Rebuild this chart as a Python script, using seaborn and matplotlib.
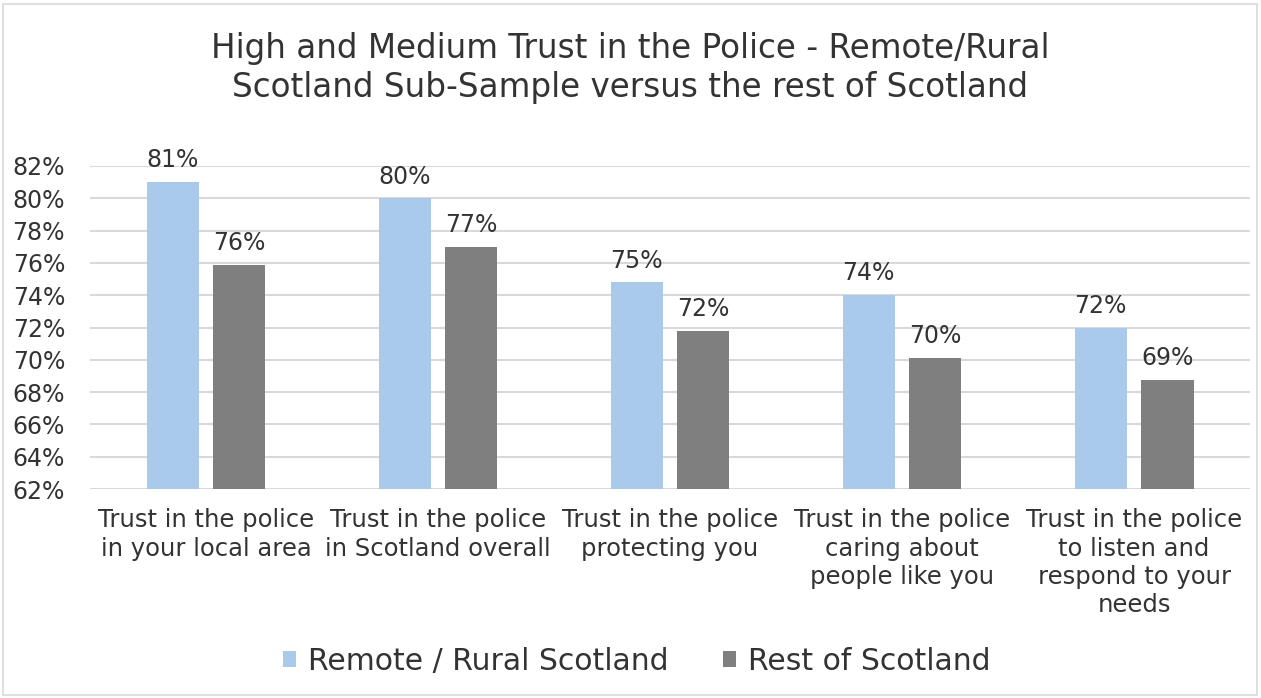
import matplotlib
matplotlib.use("Agg")
import matplotlib.pyplot as plt
import seaborn as sns
import pandas as pd
from matplotlib.patches import Rectangle

categories = [
    "Trust in the police\nin your local area",
    "Trust in the police\nin Scotland overall",
    "Trust in the police\nprotecting you",
    "Trust in the police\ncaring about\npeople like you",
    "Trust in the police\nto listen and\nrespond to your\nneeds",
]
series = ["Remote / Rural Scotland", "Rest of Scotland"]
remote_rural = [81.0, 80.0, 74.8, 74.0, 72.0]
rest_of_scotland = [75.9, 77.0, 71.8, 70.1, 68.75]
y_ticks = [62, 64, 66, 68, 70, 72, 74, 76, 78, 80, 82]
colors = ["#A9CAEB", "#7F7F7F"]
text_color = "#333333"

df = pd.DataFrame({
    "category": categories * 2,
    "series": [series[0]] * len(categories) + [series[1]] * len(categories),
    "value": remote_rural + rest_of_scotland,
})

sns.set_theme(style="white")
plt.rcParams["font.family"] = ["DejaVu Sans"]

fig = plt.figure(figsize=(12.61, 6.98), dpi=100)
ax = fig.add_axes([0.0714, 0.2994, 0.920, 0.4628])

sns.barplot(data=df, x="category", y="value", hue="series", hue_order=series,
            palette=colors, saturation=1, width=0.575, gap=0.22, ax=ax,
            legend=True, edgecolor="none", linewidth=0, zorder=3)

ax.set_ylim(62, 82)
ax.set_yticks(y_ticks)
ax.set_yticklabels([f"{t}%" for t in y_ticks], fontsize=17, color=text_color)
ax.tick_params(axis="y", length=0, pad=18)
ax.tick_params(axis="x", length=0, pad=14)
for lbl in ax.get_xticklabels():
    lbl.set_fontsize(17.5)
    lbl.set_color(text_color)
    lbl.set_linespacing(1.22)
    lbl.set_verticalalignment("top")
ax.set_xlabel("")
ax.set_ylabel("")
ax.grid(axis="y", color="#D9D9D9", linewidth=1.5, zorder=0)
ax.set_axisbelow(True)
for s in ax.spines.values():
    s.set_visible(False)
ax.set_xlim(-0.5, len(categories) - 0.5)

for container in ax.containers:
    ax.bar_label(container, fmt="%.0f%%", padding=7, fontsize=17,
                 color=text_color, clip_on=False)

handles, labels = ax.get_legend_handles_labels()
ax.get_legend().remove()
fig.legend(handles, labels, loc="center", bbox_to_anchor=(0.505, 0.053), ncol=2,
           frameon=False, fontsize=21.5, handlelength=0.45, handleheight=0.45,
           handletextpad=0.4, columnspacing=1.8, labelcolor=text_color)

fig.text(0.5, 0.9026, "High and Medium Trust in the Police - Remote/Rural\n"
         "Scotland Sub-Sample versus the rest of Scotland",
         ha="center", va="center", fontsize=23.5, color=text_color,
         linespacing=1.25)

fig.patches.append(Rectangle((0.002, 0.004), 0.995, 0.99,
                             transform=fig.transFigure, fill=False,
                             edgecolor="#D9D9D9", linewidth=1.2))

fig.savefig("out.png", dpi=100)
